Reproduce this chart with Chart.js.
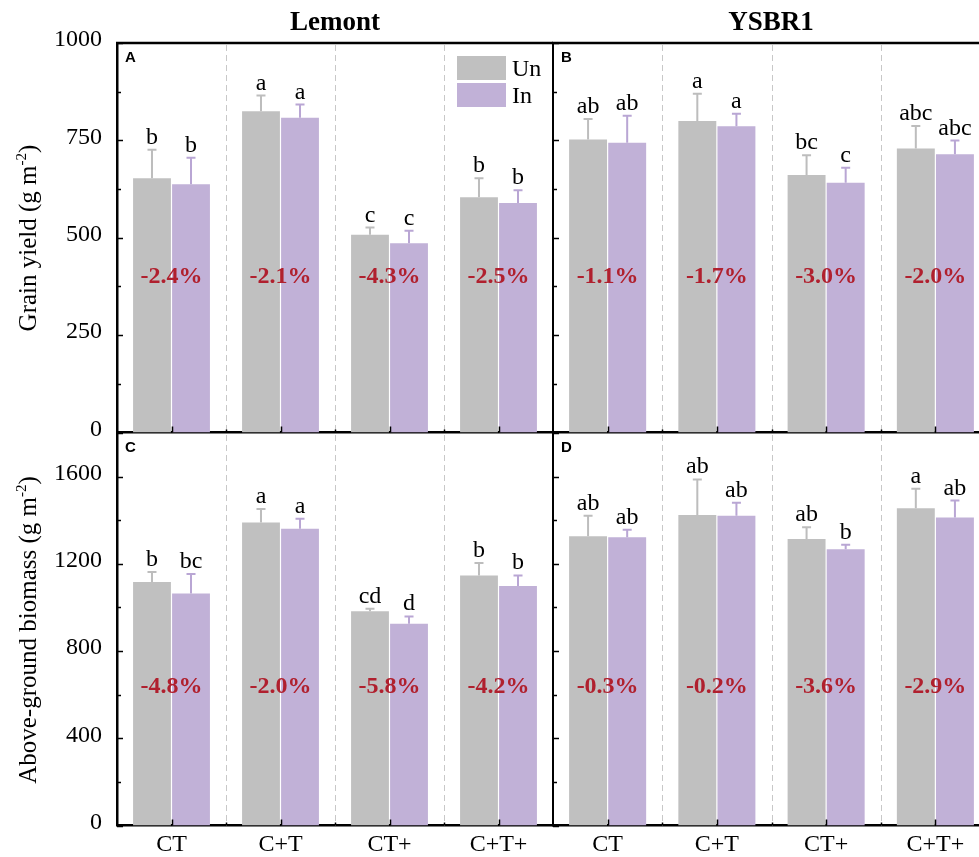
<!DOCTYPE html>
<html>
<head>
<meta charset="utf-8">
<script src="https://cdn.jsdelivr.net/npm/chart.js@4.4.1/dist/chart.umd.min.js"></script>
<style>
  html, body { margin: 0; padding: 0; background: #fff; }
  #fig { position: relative; width: 979px; height: 857px; overflow: hidden; background: #fff; }
  #fig canvas { position: absolute; left: 0; top: 0; }
  .ytitle {
    position: absolute; white-space: nowrap; line-height: 1;
    font-family: 'Liberation Serif', 'Times New Roman', serif; font-size: 25px; color: #000;
    transform: translate(-50%, -50%) rotate(-90deg);
  }
  .ytitle sup { font-size: 15px; line-height: 0; }
</style>
</head>
<body>
<div id="fig">
  <canvas id="cA" width="1000" height="857"></canvas>
  <canvas id="cB" width="1000" height="857"></canvas>
  <canvas id="cC" width="1000" height="857"></canvas>
  <canvas id="cD" width="1000" height="857"></canvas>
  <div class="ytitle" style="left:27px;top:238px">Grain yield (g m<sup>-2</sup>)</div>
  <div class="ytitle" style="left:27px;top:630px">Above-ground biomass (g m<sup>-2</sup>)</div>
</div>
<script>
// Treatments on the x axis
const treatments = ['CT', 'C+T', 'CT+', 'C+T+'];

// Grain yield (g m-2), cultivar Lemont
const yieldLemontUn   = [653, 825, 508, 604];
const yieldLemontIn   = [637.5, 808, 486, 589];
const yieldLemontUnSE = [73, 40, 18, 49];
const yieldLemontInSE = [68, 34, 32, 33];
const yieldLemontUnSig = ['b', 'a', 'c', 'b'];
const yieldLemontInSig = ['b', 'a', 'c', 'b'];
const yieldLemontChange = ['-2.4%', '-2.1%', '-4.3%', '-2.5%'];

// Grain yield (g m-2), cultivar YSBR1
const yieldYsbrUn   = [752, 800, 661, 729];
const yieldYsbrIn   = [744, 786.5, 641, 714.5];
const yieldYsbrUnSE = [53, 70, 51, 58];
const yieldYsbrInSE = [69, 32, 39, 35];
const yieldYsbrUnSig = ['ab', 'a', 'bc', 'abc'];
const yieldYsbrInSig = ['ab', 'a', 'c', 'abc'];
const yieldYsbrChange = ['-1.1%', '-1.7%', '-3.0%', '-2.0%'];

// Above-ground biomass (g m-2), cultivar Lemont
const bioLemontUn   = [1117, 1389, 982, 1146];
const bioLemontIn   = [1063.5, 1361, 925, 1098];
const bioLemontUnSE = [46, 63, 12, 58];
const bioLemontInSE = [90, 46, 34, 49];
const bioLemontUnSig = ['b', 'a', 'cd', 'b'];
const bioLemontInSig = ['bc', 'a', 'd', 'b'];
const bioLemontChange = ['-4.8%', '-2.0%', '-5.8%', '-4.2%'];

// Above-ground biomass (g m-2), cultivar YSBR1
const bioYsbrUn   = [1326, 1424, 1314, 1455];
const bioYsbrIn   = [1322, 1421, 1267, 1413];
const bioYsbrUnSE = [94, 163, 54, 89];
const bioYsbrInSE = [34, 59, 21, 77];
const bioYsbrUnSig = ['ab', 'ab', 'ab', 'a'];
const bioYsbrInSig = ['ab', 'ab', 'b', 'ab'];
const bioYsbrChange = ['-0.3%', '-0.2%', '-3.6%', '-2.9%'];

const SERIF = "'Liberation Serif', 'Times New Roman', serif";
const SANS = "'Liberation Sans', Arial, sans-serif";
const UN_COLOR = '#C0C0C0';
const IN_COLOR = '#C1B1D7';
const UN_ERR = '#BDBDBD';
const IN_ERR = '#B9A6D4';
const CHANGE_COLOR = '#B0202E';

// Per-panel decorations: dashed separators, inward ticks, error bars,
// significance letters, relative-change labels, panel tag, header, legend.
function decorPlugin(cfg) {
  return {
    id: 'panelDecor',
    beforeDatasetsDraw(chart) {
      const { ctx, chartArea: a, scales: { x } } = chart;
      ctx.save();
      ctx.strokeStyle = '#C8C8C8';
      ctx.lineWidth = 1;
      ctx.setLineDash([6, 4]);
      for (let i = 0; i < treatments.length - 1; i++) {
        const px = Math.round((x.getPixelForTick(i) + x.getPixelForTick(i + 1)) / 2) + 0.5;
        ctx.beginPath();
        ctx.moveTo(px, a.top + 2);
        ctx.lineTo(px, a.bottom);
        ctx.stroke();
      }
      ctx.restore();
    },
    afterDatasetsDraw(chart) {
      const { ctx, chartArea: a, scales: { x, y } } = chart;
      ctx.save();
      // error bars and letters
      chart.data.datasets.forEach((ds, di) => {
        const meta = chart.getDatasetMeta(di);
        meta.data.forEach((bar, i) => {
          const top = y.getPixelForValue(ds.data[i] + ds.errors[i]);
          ctx.strokeStyle = ds.errColor;
          ctx.lineWidth = 2;
          ctx.beginPath();
          ctx.moveTo(bar.x, bar.y);
          ctx.lineTo(bar.x, top);
          ctx.moveTo(bar.x - 4.5, top);
          ctx.lineTo(bar.x + 4.5, top);
          ctx.stroke();
          ctx.fillStyle = '#000';
          ctx.font = '24px ' + SERIF;
          ctx.textAlign = 'center';
          ctx.textBaseline = 'alphabetic';
          ctx.fillText(ds.letters[i], bar.x, top - 6);
        });
      });
      // relative change between In and Un
      ctx.fillStyle = CHANGE_COLOR;
      ctx.font = 'bold 24px ' + SERIF;
      ctx.textAlign = 'center';
      ctx.textBaseline = 'middle';
      const cy = a.top + cfg.changeFrac * (a.bottom - a.top);
      cfg.change.forEach((t, i) => ctx.fillText(t, x.getPixelForTick(i), cy));
      ctx.restore();
    },
    afterDraw(chart) {
      const { ctx, chartArea: a, scales: { x, y } } = chart;
      ctx.save();
      ctx.strokeStyle = '#000';
      // inward ticks on the y axis
      ctx.lineWidth = 1.5;
      const yt = y.ticks.map(t => t.value);
      yt.forEach((v, k) => {
        const py = Math.round(y.getPixelForValue(v)) + 0.5;
        ctx.beginPath(); ctx.moveTo(a.left, py); ctx.lineTo(a.left + 6, py); ctx.stroke();
        if (k < yt.length - 1) {
          const pm = Math.round(y.getPixelForValue((v + yt[k + 1]) / 2)) + 0.5;
          ctx.beginPath(); ctx.moveTo(a.left, pm); ctx.lineTo(a.left + 4, pm); ctx.stroke();
        }
      });
      // inward ticks on the x axis
      for (let i = 0; i < treatments.length; i++) {
        const px = Math.round(x.getPixelForTick(i)) + 0.5;
        ctx.beginPath(); ctx.moveTo(px, a.bottom); ctx.lineTo(px, a.bottom - 6); ctx.stroke();
        if (i < treatments.length - 1) {
          const pb = Math.round((x.getPixelForTick(i) + x.getPixelForTick(i + 1)) / 2) + 0.5;
          ctx.beginPath(); ctx.moveTo(pb, a.bottom); ctx.lineTo(pb, a.bottom - 3); ctx.stroke();
        }
      }
      // top frame line
      if (cfg.topLine) {
        ctx.lineWidth = 2.5;
        ctx.beginPath(); ctx.moveTo(a.left - 1, a.top); ctx.lineTo(a.right, a.top); ctx.stroke();
      }
      // panel tag
      ctx.fillStyle = '#000';
      ctx.font = 'bold 15px ' + SANS;
      ctx.textAlign = 'left';
      ctx.textBaseline = 'alphabetic';
      ctx.fillText(cfg.tag, a.left + 8, a.top + 19);
      // column header
      if (cfg.header) {
        ctx.font = 'bold 27px ' + SERIF;
        ctx.textAlign = 'center';
        ctx.fillText(cfg.header, (a.left + 436 / 2), 29.5);
      }
      // legend
      if (cfg.legend) {
        const lx = a.left + 340;
        chart.data.datasets.forEach((ds, di) => {
          const ly = a.top + 13 + di * 27;
          ctx.fillStyle = ds.backgroundColor;
          ctx.fillRect(lx, ly, 49, 24);
          ctx.fillStyle = '#000';
          ctx.font = '24px ' + SERIF;
          ctx.textAlign = 'left';
          ctx.textBaseline = 'alphabetic';
          ctx.fillText(ds.label, lx + 55, ly + 20);
        });
      }
      ctx.restore();
    }
  };
}

function panel(id, cfg) {
  return new Chart(document.getElementById(id), {
    type: 'bar',
    data: {
      labels: treatments,
      datasets: [
        { label: 'Un', data: cfg.un, errors: cfg.unSE, letters: cfg.unSig,
          backgroundColor: UN_COLOR, errColor: UN_ERR, borderWidth: 0 },
        { label: 'In', data: cfg.inn, errors: cfg.inSE, letters: cfg.inSig,
          backgroundColor: IN_COLOR, errColor: IN_ERR, borderWidth: 0 }
      ]
    },
    options: {
      responsive: false,
      animation: false,
      devicePixelRatio: 1,
      layout: { padding: cfg.padding },
      categoryPercentage: 0.716,
      barPercentage: 0.97,
      plugins: { legend: { display: false }, tooltip: { enabled: false } },
      scales: {
        x: {
          type: 'category',
          offset: true,
          grid: { display: false, drawTicks: false },
          border: { display: true, color: '#000', width: 2.5 },
          ticks: { display: cfg.showX, color: '#000', font: { family: SERIF, size: 24 },
                   padding: 5, maxRotation: 0, minRotation: 0, autoSkip: false },
          afterFit: s => { s.height = cfg.xHeight; }
        },
        y: {
          min: 0, max: cfg.max,
          grid: { display: false, drawTicks: false },
          border: { display: true, color: '#000', width: cfg.yBorder },
          ticks: { display: cfg.showY, stepSize: cfg.step, color: '#000',
                   font: { family: SERIF, size: 24 }, padding: 15, labelOffset: -3,
                   callback: v => String(v) },
          afterBuildTicks: s => { s.ticks = s.ticks.filter(t => t.value <= cfg.lastTick); },
          afterFit: s => { s.width = cfg.yWidth; }
        }
      }
    },
    plugins: [decorPlugin(cfg)]
  });
}

panel('cA', {
  un: yieldLemontUn, inn: yieldLemontIn, unSE: yieldLemontUnSE, inSE: yieldLemontInSE,
  unSig: yieldLemontUnSig, inSig: yieldLemontInSig, change: yieldLemontChange,
  max: 1000, step: 250, lastTick: 1000, showX: false, showY: true, yWidth: 117, yBorder: 2.5,
  xHeight: 0, padding: { left: 0, top: 43, right: 447, bottom: 424.5 },
  changeFrac: 0.601, tag: 'A', header: 'Lemont', legend: true, topLine: true
});
panel('cB', {
  un: yieldYsbrUn, inn: yieldYsbrIn, unSE: yieldYsbrUnSE, inSE: yieldYsbrInSE,
  unSig: yieldYsbrUnSig, inSig: yieldYsbrInSig, change: yieldYsbrChange,
  max: 1000, step: 250, lastTick: 1000, showX: false, showY: false, yWidth: 0, yBorder: 2,
  xHeight: 0, padding: { left: 553, top: 43, right: 10, bottom: 424.5 },
  changeFrac: 0.601, tag: 'B', header: 'YSBR1', legend: false, topLine: true
});
panel('cC', {
  un: bioLemontUn, inn: bioLemontIn, unSE: bioLemontUnSE, inSE: bioLemontInSE,
  unSig: bioLemontUnSig, inSig: bioLemontInSig, change: bioLemontChange,
  max: 1800, step: 400, lastTick: 1600, showX: true, showY: true, yWidth: 117, yBorder: 2.5,
  xHeight: 31.5, padding: { left: 0, top: 433, right: 447, bottom: 0 },
  changeFrac: 0.646, tag: 'C', header: null, legend: false, topLine: false
});
panel('cD', {
  un: bioYsbrUn, inn: bioYsbrIn, unSE: bioYsbrUnSE, inSE: bioYsbrInSE,
  unSig: bioYsbrUnSig, inSig: bioYsbrInSig, change: bioYsbrChange,
  max: 1800, step: 400, lastTick: 1600, showX: true, showY: false, yWidth: 0, yBorder: 2,
  xHeight: 31.5, padding: { left: 553, top: 433, right: 10, bottom: 0 },
  changeFrac: 0.646, tag: 'D', header: null, legend: false, topLine: false
});
</script>
</body>
</html>
